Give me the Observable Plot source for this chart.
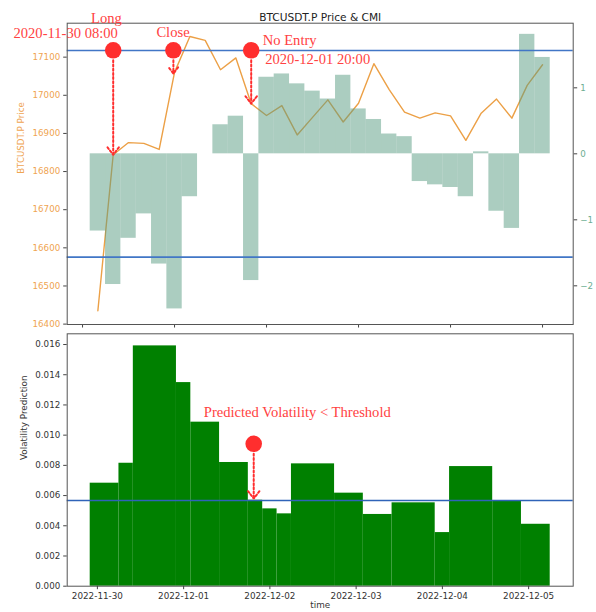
<!DOCTYPE html>
<html>
<head>
<meta charset="utf-8">
<script src="https://cdn.jsdelivr.net/npm/d3@7"></script>
<script src="https://cdn.jsdelivr.net/npm/@observablehq/plot@0.6"></script>
<style>
html,body{margin:0;padding:0;background:#fff;}
#chart{position:relative;width:596px;height:612px;overflow:hidden;font-family:"DejaVu Sans",sans-serif;}
#chart svg{position:absolute;left:0;}
</style>
</head>
<body>
<div id="chart"></div>
<script>
// ---------- data ----------
const startDay = Date.UTC(2022, 10, 30);
const HOUR = 3600e3;
const at = h => new Date(startDay + h * HOUR);

const priceHours = [4,8,12,16,20,24,28,32,36,40,44,48,52,56,60,64,68,72,76,80,84,88,92,96,100,104,108,112,116,120];
const priceValues = [16435,16844,16876,16874,16858,17060,17154,17144,17067,17098,16978,16947,16973,16896,16942,16988,16930,16979,17083,17015,16956,16940,16954,16946,16882,16953,16990,16940,17026,17080];
const cmiValues = [-1.17,-1.98,-1.28,-0.91,-1.67,-2.35,-0.65,0,0.44,0.57,-1.92,1.16,1.21,1.06,0.95,0.83,1.19,0.68,0.52,0.30,0.26,-0.42,-0.47,-0.51,-0.65,0.03,-0.87,-1.13,1.81,1.46];
const cmiBarHours = 4;
const cmiThreshold = 1.565;

const volStartHours = [-2,6,10,22,26,34,42,46,50,54,66,74,82,94,98,110,118];
const volEndHours   = [6,10,22,26,34,42,46,50,54,66,74,82,94,98,110,118,126];
const volValues = [0.00682,0.00814,0.01591,0.01348,0.01086,0.00819,0.00569,0.00512,0.00479,0.0081,0.00616,0.00475,0.00552,0.00355,0.00792,0.00561,0.0041];
const volThreshold = 0.00567;

const dayTicks = ["2022-11-30","2022-12-01","2022-12-02","2022-12-03","2022-12-04","2022-12-05"];
const priceTicks = [16400,16500,16600,16700,16800,16900,17000,17100];
const cmiTicks = [-2,-1,0,1];
const volTicks = [0,0.002,0.004,0.006,0.008,0.010,0.012,0.014,0.016];

const signalHours = [8, 23.7, 44];
const signalTargets = [16844, 17057, 16978];
const signalLevel = 17118;
const noteLabels = ["Long","2020-11-30 08:00","Close","No Entry","2020-12-01 20:00"];
const noteHours = [6.25,-4.4,23.6,47.0,47.65];
const notePrices = [17202,17162,17166,17144,17095];
const noteAnchors = ["middle","middle","middle","start","start"];

const volNote = "Predicted Volatility < Threshold";
const volNoteHour = 29.6, volNoteValue = 0.01154;
const volSignalHour = 43.5, volSignalValue = 0.00943, volSignalTarget = 0.0058;

// ---------- tables ----------
const price = priceHours.map((h, i) => ({t: at(h), p: priceValues[i]}));
const cmi = priceHours.map((h, i) => ({t1: at(h - cmiBarHours / 2), t2: at(h + cmiBarHours / 2), v: cmiValues[i]}));
const vol = volValues.map((v, i) => ({t1: at(volStartHours[i]), t2: at(volEndHours[i]), v}));
const dayDates = dayTicks.map(s => new Date(s + "T00:00:00Z"));
const signals = signalHours.map((h, i) => ({t: at(h), level: signalLevel, target: signalTargets[i]}));
const notes = noteLabels.map((s, i) => ({t: at(noteHours[i]), p: notePrices[i], s, a: noteAnchors[i]}));

// ---------- style ----------
const orangeLine = "#eca046", orangeText = "#efa451";
const greenText = "#6dae92", barColor = "#579c82";
const blue = "#4176c6", red = "#ff2e2e", redText = "#ff4242";
const spine = "#555";
const svgStyle = "font-family:'DejaVu Sans',sans-serif;background:transparent;overflow:visible;";
const minusFormat = d => d < 0 ? "\u2212" + (-d) : String(d);

const topBase = {
  width: 596, height: 330,
  marginLeft: 66.7, marginRight: 23.3, marginTop: 22.7, marginBottom: 6,
  x: {type: "utc", domain: [at(-4), at(128)], axis: null},
  style: svgStyle
};
const priceDomain = [16399, 17189];
const cmiDomain = [-2.586, 1.979];

const arrowStyle = {stroke: red, strokeWidth: 2, strokeDasharray: "2 2.2", headLength: 7, headAngle: 75, insetStart: 10};

const chart = document.getElementById("chart");

// Layer A: price line, left axis
const layerA = Plot.plot({
  ...topBase,
  y: {domain: priceDomain, axis: null},
  marks: [
    Plot.line(price, {x: "t", y: "p", stroke: orangeLine, strokeWidth: 1.4}),
    Plot.axisY({ticks: priceTicks, tickFormat: d3.format("d"), tickSize: 3.5, tickPadding: 3.5, fontSize: 8.7, fill: orangeText, stroke: "#444", label: null}),
    Plot.axisX({ticks: dayDates, tickFormat: () => "", tickSize: 3.5, stroke: "#444", label: null}),
    Plot.text(["BTCUSDT.P Price"], {frameAnchor: "left", rotate: -90, dx: -46, fill: orangeText, fontSize: 8.7})
  ]
});

// Layer B: CMI bars, right axis, thresholds
const layerB = Plot.plot({
  ...topBase,
  y: {domain: cmiDomain, axis: null},
  marks: [
    Plot.rect(cmi, {x1: "t1", x2: "t2", y1: d => 0, y2: "v", fill: barColor, fillOpacity: 0.5, inset: 0}),
    Plot.ruleY([cmiThreshold, -cmiThreshold], {stroke: blue, strokeWidth: 1.6}),
    Plot.axisY({anchor: "right", ticks: cmiTicks, tickFormat: minusFormat, tickSize: 3.5, tickPadding: 3.5, fontSize: 8.7, fill: greenText, stroke: "#444", label: null})
  ]
});

// Layer C: frame, annotations, title
const layerC = Plot.plot({
  ...topBase,
  y: {domain: priceDomain, axis: null},
  marks: [
    Plot.frame({stroke: spine}),
    Plot.arrow(signals, {x1: "t", x2: "t", y1: "level", y2: "target", ...arrowStyle}),
    Plot.dot(signals, {x: "t", y: "level", r: 8.3, fill: red}),
    Plot.text(notes.filter(d => d.a === "middle"), {x: "t", y: "p", text: "s", textAnchor: "middle", fill: redText, fontSize: 14.6, fontFamily: "Liberation Serif"}),
    Plot.text(notes.filter(d => d.a === "start"), {x: "t", y: "p", text: "s", textAnchor: "start", fill: redText, fontSize: 14.6, fontFamily: "Liberation Serif"}),
    Plot.text(["BTCUSDT.P Price & CMI"], {frameAnchor: "top", dy: -9.4, fontSize: 10.6, fill: "#222"})
  ]
});

// Layer D: volatility chart
const layerD = Plot.plot({
  width: 596, height: 282,
  marginLeft: 66.7, marginRight: 23.3, marginTop: 3.3, marginBottom: 26.3,
  x: {type: "utc", domain: [at(-8.4), at(132.4)], axis: null},
  y: {domain: [0, 0.01671], axis: null},
  style: svgStyle,
  marks: [
    Plot.rect(vol, {x1: "t1", x2: "t2", y1: d => 0, y2: "v", fill: "#008000", inset: 0}),
    Plot.ruleY([volThreshold], {stroke: "#2f63b8", strokeWidth: 1.4}),
    Plot.frame({stroke: spine}),
    Plot.axisY({ticks: volTicks, tickFormat: d3.format(".3f"), tickSize: 3.5, tickPadding: 3.5, fontSize: 8.7, fill: "#333", stroke: "#444", label: null}),
    Plot.axisX({ticks: dayDates, tickFormat: d3.utcFormat("%Y-%m-%d"), tickSize: 3.5, tickPadding: 3, fontSize: 8.8, fill: "#333", stroke: "#444", label: null}),
    Plot.text(["time"], {frameAnchor: "bottom", dy: 22, fontSize: 8.8, fill: "#333"}),
    Plot.text(["Volatility Prediction"], {frameAnchor: "left", rotate: -90, dx: -42.7, fontSize: 8.8, fill: "#333"}),
    Plot.arrow([{t: at(volSignalHour), a: volSignalValue, b: volSignalTarget}], {x1: "t", x2: "t", y1: "a", y2: "b", ...arrowStyle}),
    Plot.dot([{t: at(volSignalHour), a: volSignalValue}], {x: "t", y: "a", r: 8.3, fill: red}),
    Plot.text([{t: at(volNoteHour), v: volNoteValue, s: volNote}], {x: "t", y: "v", text: "s", textAnchor: "start", fill: redText, fontSize: 14.6, fontFamily: "Liberation Serif"})
  ]
});

layerA.style.top = "0px";
layerB.style.top = "0px";
layerC.style.top = "0px";
layerD.style.top = "330px";
chart.append(layerA, layerB, layerC, layerD);
</script>
</body>
</html>
